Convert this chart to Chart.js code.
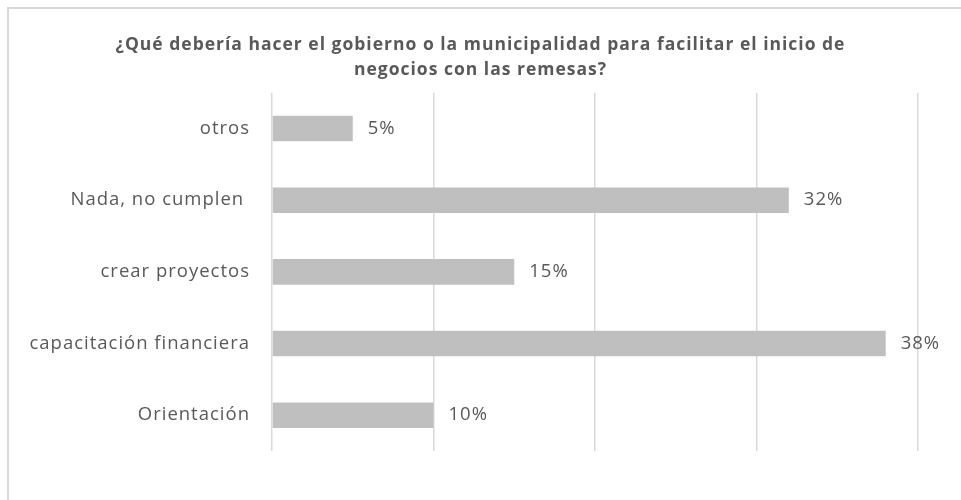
<!DOCTYPE html>
<html>
<head>
<meta charset="utf-8">
<script src="https://cdn.jsdelivr.net/npm/chart.js@4"></script>
<style>
body{margin:0;background:#fff;}
#frame{position:absolute;left:7px;top:7px;width:1000px;height:600px;border:2px solid #d9d9d9;}
#wrap{position:absolute;left:0;top:0;width:961px;height:500px;}
</style>
</head>
<body>
<div id="frame"></div>
<div id="wrap"><canvas id="Chart1"></canvas></div>
<script>
var categorias = ['otros', 'Nada, no cumplen ', 'crear proyectos', 'capacitación financiera', 'Orientación'];
var porcentajes = [5, 32, 15, 38, 10];
var titulo = ['¿Qué debería hacer el gobierno o la municipalidad para facilitar el inicio de', 'negocios con las remesas?'];

// el texto del original va algo espaciado
var espaciado = {
    id: 'espaciado',
    beforeLayout: function (chart) { chart.ctx.letterSpacing = '1px'; },
    beforeDraw: function (chart) { chart.ctx.letterSpacing = '1px'; }
};

// etiquetas de valor al final de cada barra
var etiquetas = {
    id: 'etiquetas',
    afterDatasetsDraw: function (chart) {
        var ctx = chart.ctx;
        var meta = chart.getDatasetMeta(0);
        ctx.save();
        ctx.letterSpacing = '1px';
        ctx.font = '18.5px "Open Sans"';
        ctx.fillStyle = '#595959';
        ctx.textAlign = 'left';
        ctx.textBaseline = 'middle';
        for (var i = 0; i < meta.data.length; i++) {
            var bar = meta.data[i];
            ctx.fillText(porcentajes[i] + '%', bar.x + 15, bar.y);
        }
        ctx.restore();
    }
};

window.onload = function () {
    var ctx = document.getElementById('Chart1').getContext('2d');
    var chart = new Chart(ctx, {
        type: 'bar',
        data: {
            labels: categorias,
            datasets: [{
                data: porcentajes,
                backgroundColor: '#bfbfbf',
                borderWidth: 0,
                categoryPercentage: 1,
                barPercentage: 0.356
            }]
        },
        options: {
            indexAxis: 'y',
            responsive: true,
            maintainAspectRatio: false,
            animation: false,
            layout: {padding: {left: 0, right: 0, top: 0, bottom: 49}},
            plugins: {
                legend: {display: false},
                tooltip: {enabled: false},
                title: {
                    display: true,
                    text: titulo,
                    color: '#595959',
                    font: {family: 'Open Sans', size: 17.5, weight: 'bold', lineHeight: 1.45},
                    padding: {top: 32, bottom: 10}
                }
            },
            scales: {
                x: {
                    min: 0,
                    max: 40,
                    ticks: {display: false, stepSize: 10},
                    grid: {color: '#d9d9d9', lineWidth: 1.5, drawTicks: false},
                    border: {display: false}
                },
                y: {
                    ticks: {color: '#595959', font: {family: 'Open Sans', size: 18.5}, padding: 22},
                    grid: {display: false, drawTicks: false},
                    border: {display: false},
                    afterFit: function (scale) { scale.width = 272; }
                },
                derecha: {
                    type: 'category',
                    position: 'right',
                    ticks: {display: false},
                    grid: {display: false, drawTicks: false},
                    border: {display: false},
                    afterFit: function (scale) { scale.width = 43; }
                }
            }
        },
        plugins: [espaciado, etiquetas]
    });
}
</script>
</body>
</html>
